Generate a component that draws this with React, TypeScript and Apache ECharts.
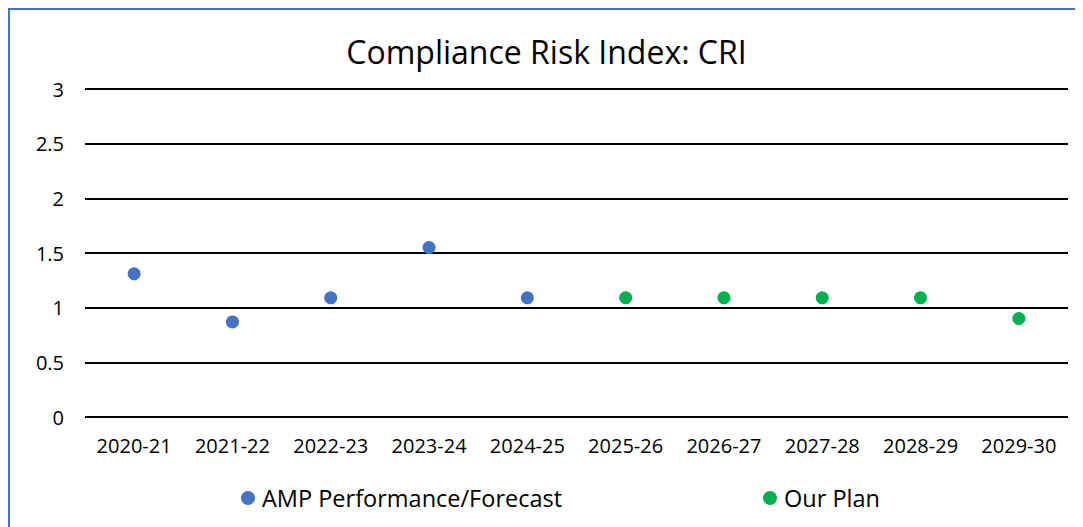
import React, { useEffect, useRef } from "react";
import * as echarts from "echarts";

const categories = ["2020-21", "2021-22", "2022-23", "2023-24", "2024-25", "2025-26", "2026-27", "2027-28", "2028-29", "2029-30"];
const ampValues: (number | null)[] = [1.31, 0.87, 1.09, 1.55, 1.09, null, null, null, null, null];
const planValues: (number | null)[] = [null, null, null, null, null, 1.09, 1.09, 1.09, 1.09, 0.9];
const yTicks = [0, 0.5, 1, 1.5, 2, 2.5, 3];

const FONT = "'Open Sans', 'Noto Sans', sans-serif";

export default function App() {
  const ref = useRef<HTMLDivElement>(null);
  useEffect(() => {
    if (!ref.current) return;
    const chart = echarts.init(ref.current, undefined, { renderer: "svg" });
    chart.setOption({
      animation: false,
      backgroundColor: "#ffffff",
      textStyle: { fontFamily: FONT },
      title: {
        text: "Compliance Risk Index: CRI",
        left: "center",
        top: 20,
        textStyle: { fontFamily: FONT, fontSize: 32, fontWeight: "normal", color: "#000" },
      },
      grid: { left: 75, right: 15, top: 79, bottom: 110 },
      legend: [
        {
          data: ["AMP Performance/Forecast"],
          left: 226,
          top: 471,
          icon: "circle",
          itemWidth: 14,
          itemHeight: 14,
          itemGap: 6,
          textStyle: { fontFamily: FONT, fontSize: 23.5, color: "#000", padding: [0, 0, 0, 2] },
        },
        {
          data: ["Our Plan"],
          left: 748,
          top: 471,
          icon: "circle",
          itemWidth: 14,
          itemHeight: 14,
          textStyle: { fontFamily: FONT, fontSize: 23.5, color: "#000", padding: [0, 0, 0, 2] },
        },
      ],
      xAxis: {
        type: "category",
        data: categories,
        axisLine: { show: false },
        axisTick: { show: false },
        axisLabel: { fontFamily: FONT, fontSize: 20, color: "#000", margin: 18 },
      },
      yAxis: {
        type: "value",
        min: yTicks[0],
        max: yTicks[yTicks.length - 1],
        interval: 0.5,
        axisLine: { show: false },
        axisTick: { show: false },
        axisLabel: { fontFamily: FONT, fontSize: 20, color: "#000", margin: 21 },
        splitLine: { lineStyle: { color: "#000", width: 2 } },
      },
      series: [
        {
          name: "AMP Performance/Forecast",
          type: "scatter",
          data: ampValues,
          symbol: "circle",
          symbolSize: 13,
          itemStyle: { color: "#4472C4", opacity: 1 },
        },
        {
          name: "Our Plan",
          type: "scatter",
          data: planValues,
          symbol: "circle",
          symbolSize: 13,
          itemStyle: { color: "#00B050", opacity: 1 },
        },
      ],
    });
    return () => chart.dispose();
  }, []);
  return (
    <div style={{ borderLeft: "2px solid #4472C4", borderTop: "2px solid #4472C4", width: 1073, height: 517 }}>
      <div ref={ref} style={{ width: 1073, height: 517 }} />
    </div>
  );
}
